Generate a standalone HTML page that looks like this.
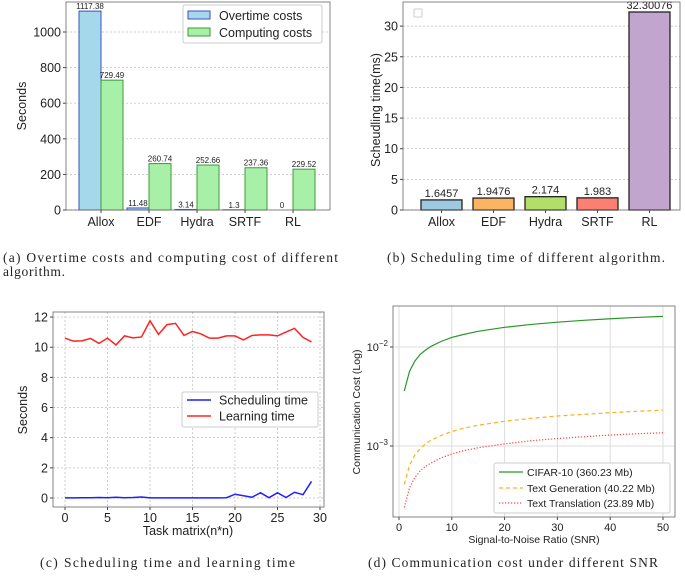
<!DOCTYPE html>
<html><head><meta charset="utf-8"><style>
body{margin:0;background:#fff;}
svg{display:block;font-family:"Liberation Sans",sans-serif;}
.cap{font-family:"Liberation Serif",serif;font-size:13.5px;fill:#222;}
.tk{font-size:12.5px;fill:#222;}
.sm{font-size:8px;fill:#222;}
.dk{font-size:11px;fill:#222;}
</style></head><body>
<svg id="fig" width="685" height="577" viewBox="0 0 685 577" xmlns="http://www.w3.org/2000/svg">
<g id="pa"></g>
<g id="pb"></g>
<g id="pc"></g>
<g id="pd"></g>
<text class="cap" x="3" y="262" textLength="335" lengthAdjust="spacing">(a) Overtime costs and computing cost of different</text>
<text class="cap" x="3" y="276" textLength="62" lengthAdjust="spacing">algorithm.</text>
<text class="cap" x="387" y="262" textLength="278" lengthAdjust="spacing">(b) Scheduling time of different algorithm.</text>
<text class="cap" x="40" y="567" textLength="255" lengthAdjust="spacing">(c) Scheduling time and learning time</text>
<text class="cap" x="368" y="567" textLength="290" lengthAdjust="spacing">(d) Communication cost under different SNR</text>
</svg>
<script>
const algos = ["Allox","EDF","Hydra","SRTF","RL"];
const overtime = [1117.38,11.48,3.14,1.3,0];
const computing = [729.49,260.74,252.66,237.36,229.52];
const yTicksA = [0,200,400,600,800,1000];
const schedMs = [1.6457,1.9476,2.174,1.983,32.30076];
const schedLabels = ["1.6457","1.9476","2.174","1.983","32.30076"];
const yTicksB = [0,5,10,15,20,25,30];
const colorsB = ["#9ecae1","#fdb462","#b3de69","#fb8072","#c2a5cf"];
const taskN = [0,1,2,3,4,5,6,7,8,9,10,11,12,13,14,15,16,17,18,19,20,21,22,23,24,25,26,27,28,29];
const schedTime = [0.01,0.01,0.02,0.02,0.03,0.02,0.05,0.02,0.03,0.07,0.01,0.01,0.01,0.01,0.01,0.01,0.01,0.01,0.01,0.02,0.25,0.15,0.05,0.35,0.02,0.35,0.03,0.38,0.22,1.1];
const learnTime = [10.6,10.4,10.42,10.58,10.25,10.6,10.15,10.75,10.62,10.68,11.75,10.85,11.5,11.58,10.78,11.05,10.88,10.6,10.6,10.75,10.75,10.48,10.78,10.82,10.82,10.75,11.0,11.25,10.65,10.35];
const xTicksC = [0,5,10,15,20,25,30];
const yTicksC = [0,2,4,6,8,10,12];
const snr = [1,2,3,4,5,6,8,10,12,15,20,25,30,35,40,45,50];
const cifar = [0.0036,0.0057,0.0072,0.0084,0.0093,0.0101,0.0114,0.0125,0.0133,0.0144,0.0158,0.0169,0.0178,0.0186,0.0193,0.0199,0.0204];
const textGen = [0.00041,0.00064,0.00081,0.00094,0.00105,0.00114,0.00128,0.0014,0.0015,0.00162,0.00178,0.0019,0.00201,0.00209,0.00217,0.00224,0.0023];
const textTrans = [0.00024,0.00038,0.00048,0.00056,0.00062,0.00067,0.00076,0.00083,0.00089,0.00096,0.00105,0.00113,0.00119,0.00124,0.00129,0.00133,0.00136];
const xTicksD = [0,10,20,30,40,50];

const NS="http://www.w3.org/2000/svg";
function mk(p,tag,a,txt){const e=document.createElementNS(NS,tag);for(const k in a)e.setAttribute(k,a[k]);if(txt!==undefined)e.textContent=txt;p.appendChild(e);return e;}

// Panel A
(function(){
 const g=document.getElementById('pa');
 const L=66,R=330,T=2,B=210;
 const y=v=>B-v*0.178;
 const cx=i=>101+i*48;
 yTicksA.forEach(t=>{
  const l=mk(g,'line',{x1:L,x2:R,y1:y(t),y2:y(t),stroke:'#bbb','stroke-dasharray':'2,2','stroke-width':0.7});
  
  
  mk(g,'line',{x1:L-3,x2:L,y1:y(t),y2:y(t),stroke:'#444'});
  const tx=mk(g,'text',{x:L-5,y:y(t)+4.5,'text-anchor':'end',class:'tk'},t);
  
  
 });
 algos.forEach((a,i)=>{
  const b1=mk(g,'rect',{x:cx(i)-22,y:y(overtime[i]),width:22,height:B-y(overtime[i]),fill:'#a6d8ec',stroke:'#3a4fc0','stroke-width':1});
  
  
  const b2=mk(g,'rect',{x:cx(i),y:y(computing[i]),width:22,height:B-y(computing[i]),fill:'#a8f0a8',stroke:'#3c9a3c','stroke-width':1});
  
  
  const t1=mk(g,'text',{x:cx(i)-11,y:y(overtime[i])-2,'text-anchor':'middle',class:'sm'},String(overtime[i]));
  
  
  const t2=mk(g,'text',{x:cx(i)+11,y:y(computing[i])-2,'text-anchor':'middle',class:'sm'},String(computing[i]));
  
  
  mk(g,'line',{x1:cx(i),x2:cx(i),y1:B,y2:B+3,stroke:'#444'});
  const xl=mk(g,'text',{x:cx(i),y:B+16,'text-anchor':'middle',class:'tk'},a);
  
  
 });
 mk(g,'rect',{x:L,y:T,width:R-L,height:B-T,fill:'none',stroke:'#666','stroke-width':0.8});
 const yt=mk(g,'text',{x:0,y:0,transform:'translate(26,106) rotate(-90)','text-anchor':'middle',class:'tk'},'Seconds');
 
 
 const lg=mk(g,'g',{});
 
 
 mk(lg,'rect',{x:183,y:5,width:139,height:38,fill:'#fff',stroke:'#ccc',rx:2});
 mk(lg,'rect',{x:188,y:11,width:22,height:8,fill:'#a6d8ec',stroke:'#3a4fc0'});
 mk(lg,'text',{x:219,y:20,class:'tk'},'Overtime costs');
 mk(lg,'rect',{x:188,y:28,width:22,height:8,fill:'#a8f0a8',stroke:'#3c9a3c'});
 mk(lg,'text',{x:219,y:37,class:'tk'},'Computing costs');
})();

// Panel B
(function(){
 const g=document.getElementById('pb');
 const L=403,R=680,T=2,B=210;
 const y=v=>B-v*6.13;
 const cx=i=>441.5+i*52;
 yTicksB.forEach(t=>{
  const l=mk(g,'line',{x1:L,x2:R,y1:y(t),y2:y(t),stroke:'#bbb','stroke-dasharray':'2,2','stroke-width':0.7});
  
  
  mk(g,'line',{x1:L-3,x2:L,y1:y(t),y2:y(t),stroke:'#444'});
  const tx=mk(g,'text',{x:L-5,y:y(t)+4.5,'text-anchor':'end',class:'tk'},t);
  
  
 });
 algos.forEach((a,i)=>{
  const b=mk(g,'rect',{x:cx(i)-20.5,y:y(schedMs[i]),width:41,height:B-y(schedMs[i]),fill:colorsB[i],stroke:'#222','stroke-width':1.3});
  
  
  const t=mk(g,'text',{x:cx(i),y:y(schedMs[i])-3,'text-anchor':'middle',class:'tk',style:'font-size:11px'},schedLabels[i]);
  
  
  mk(g,'line',{x1:cx(i),x2:cx(i),y1:B,y2:B+3,stroke:'#444'});
  const xl=mk(g,'text',{x:cx(i),y:B+16,'text-anchor':'middle',class:'tk'},a);
  
  
 });
 mk(g,'rect',{x:L,y:T,width:R-L,height:B-T,fill:'none',stroke:'#666','stroke-width':0.8});
 const lb=mk(g,'rect',{x:414,y:9,width:8,height:8,fill:'#fff',stroke:'#ccc',rx:1});
 
 
 const yt=mk(g,'text',{x:0,y:0,transform:'translate(380,110) rotate(-90)','text-anchor':'middle',class:'tk'},'Scheudling time(ms)');
 
 
})();

// Panel C
(function(){
 const g=document.getElementById('pc');
 const L=53,R=324,T=312,B=507;
 const x=v=>65+v*8.5, y=v=>498-v*15.08;
 xTicksC.forEach(t=>{
  const l=mk(g,'line',{x1:x(t),x2:x(t),y1:T,y2:B,stroke:'#bbb','stroke-dasharray':'2,2','stroke-width':0.7});
  
  
  mk(g,'line',{x1:x(t),x2:x(t),y1:B,y2:B+3,stroke:'#444'});
  const tx=mk(g,'text',{x:x(t),y:B+15,'text-anchor':'middle',class:'tk'},t);
  
  
 });
 yTicksC.forEach(t=>{
  const l=mk(g,'line',{x1:L,x2:R,y1:y(t),y2:y(t),stroke:'#bbb','stroke-dasharray':'2,2','stroke-width':0.7});
  
  
  mk(g,'line',{x1:L-3,x2:L,y1:y(t),y2:y(t),stroke:'#444'});
  const tx=mk(g,'text',{x:L-5,y:y(t)+4.5,'text-anchor':'end',class:'tk'},t);
  
  
 });
 const p1=mk(g,'polyline',{points:taskN.map((n,i)=>x(n)+','+y(schedTime[i])).join(' '),fill:'none',stroke:'#1f1fff','stroke-width':1.5});
 
 
 const p2=mk(g,'polyline',{points:taskN.map((n,i)=>x(n)+','+y(learnTime[i])).join(' '),fill:'none',stroke:'#f22','stroke-width':1.5});
 
 
 mk(g,'rect',{x:L,y:T,width:R-L,height:B-T,fill:'none',stroke:'#666','stroke-width':0.8});
 const lg=mk(g,'g',{});
 
 
 mk(lg,'rect',{x:182,y:392,width:136,height:35,fill:'#fff',stroke:'#ccc',rx:2});
 mk(lg,'line',{x1:187,x2:211,y1:400,y2:400,stroke:'#1f1fff','stroke-width':1.5});
 mk(lg,'text',{x:219,y:404.5,class:'tk'},'Scheduling time');
 mk(lg,'line',{x1:187,x2:211,y1:416,y2:416,stroke:'#f22','stroke-width':1.5});
 mk(lg,'text',{x:219,y:420.5,class:'tk'},'Learning time');
 const xt=mk(g,'text',{x:188,y:535,'text-anchor':'middle',class:'tk'},'Task matrix(n*n)');
 
 
 const yt=mk(g,'text',{x:0,y:0,transform:'translate(27,410) rotate(-90)','text-anchor':'middle',class:'tk'},'Seconds');
 
 
})();

// Panel D
(function(){
 const g=document.getElementById('pd');
 const L=393,R=675,T=306,B=517;
 const x=v=>399+v*5.28, y=v=>446-(Math.log10(v)+3)*99;
 xTicksD.forEach(t=>{
  const l=mk(g,'line',{x1:x(t),x2:x(t),y1:T,y2:B,stroke:'#ddd','stroke-width':1});
  
  
  mk(g,'line',{x1:x(t),x2:x(t),y1:B,y2:B+3,stroke:'#444'});
  const tx=mk(g,'text',{x:x(t),y:B+14,'text-anchor':'middle',class:'dk'},t);
  
  
 });
 [0.01,0.001].forEach((t,k)=>{
  const l=mk(g,'line',{x1:L,x2:R,y1:y(t),y2:y(t),stroke:'#ddd','stroke-width':1});
  
  
  mk(g,'line',{x1:L-3,x2:L,y1:y(t),y2:y(t),stroke:'#444'});
  const tx=mk(g,'text',{x:L-5,y:y(t)+4,'text-anchor':'end',class:'dk'},'10');
  mk(tx,'tspan',{dy:-5,style:'font-size:8px'},k?'−3':'−2');
  
  
 });
 const series=[[cifar,'#2a962a',''],[textGen,'#ffb020','4,3'],[textTrans,'#ff4040','1.2,1.8']];
 const nm=['cifar10-line','text-generation-line','text-translation-line'];
 series.forEach((s,k)=>{
  const p=mk(g,'polyline',{points:snr.map((n,i)=>x(n)+','+y(s[0][i])).join(' '),fill:'none',stroke:s[1],'stroke-width':1.2,'stroke-dasharray':s[2]||'none'});
  
  
 });
 mk(g,'rect',{x:L,y:T,width:R-L,height:B-T,fill:'none',stroke:'#666','stroke-width':0.8});
 const lg=mk(g,'g',{});
 
 
 mk(lg,'rect',{x:494,y:463,width:176,height:50,fill:'#fff',stroke:'#ccc',rx:2});
 mk(lg,'line',{x1:499,x2:523,y1:472,y2:472,stroke:'#2a962a','stroke-width':1.2});
 mk(lg,'text',{x:527,y:476,class:'tk',style:'font-size:10.5px'},'CIFAR-10 (360.23 Mb)');
 mk(lg,'line',{x1:499,x2:523,y1:488,y2:488,stroke:'#ffb020','stroke-width':1.2,'stroke-dasharray':'4,3'});
 mk(lg,'text',{x:527,y:492,class:'tk',style:'font-size:10.5px'},'Text Generation (40.22 Mb)');
 mk(lg,'line',{x1:499,x2:523,y1:503,y2:503,stroke:'#ff4040','stroke-width':1.2,'stroke-dasharray':'1.2,1.8'});
 mk(lg,'text',{x:527,y:507,class:'tk',style:'font-size:10.5px'},'Text Translation (23.89 Mb)');
 const xt=mk(g,'text',{x:534,y:543,'text-anchor':'middle',class:'tk',style:'font-size:10.5px'},'Signal-to-Noise Ratio (SNR)');
 
 
 const yt=mk(g,'text',{x:0,y:0,transform:'translate(360,412) rotate(-90)','text-anchor':'middle',class:'tk',style:'font-size:10.5px'},'Communication Cost (Log)');
 
 
})();
</script>
</body></html>
